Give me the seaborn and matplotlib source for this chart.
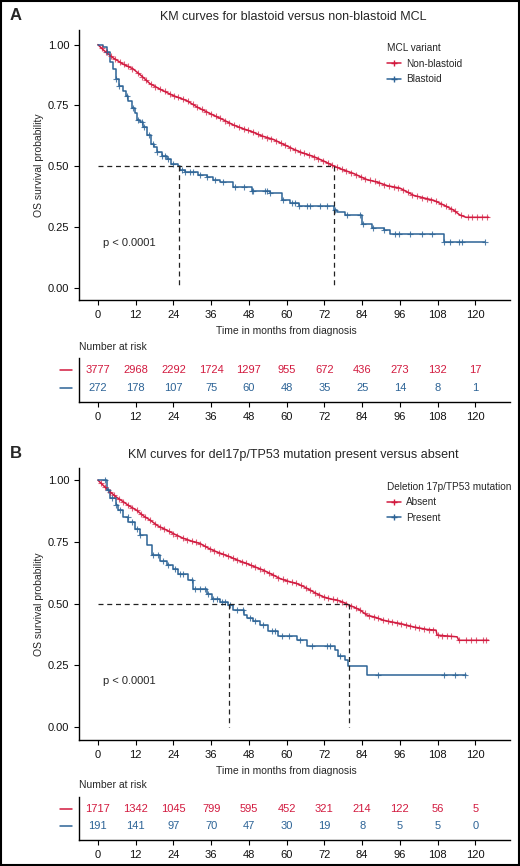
import numpy as np
import pandas as pd
import matplotlib
matplotlib.use("Agg")
import matplotlib.pyplot as plt
from matplotlib.lines import Line2D
from matplotlib.patches import Rectangle
import seaborn as sns

# ---- data ----
times = [0, 12, 24, 36, 48, 60, 72, 84, 96, 108, 120]

# Panel A: blastoid vs non-blastoid
red_a_t = [0, 2, 4.9, 8, 11.2, 14, 16.5, 20, 24, 28.2, 32, 36.7, 40, 43, 46, 49.4, 52, 55.8,
           59, 62.2, 65, 68.5, 72, 75.1, 78, 81.3, 85.5, 88.7, 92, 96, 100.4, 103.5, 106.7,
           110, 113, 115, 117, 124.2]
red_a_s = [1.0, 0.975, 0.945, 0.92, 0.90, 0.87, 0.84, 0.815, 0.79, 0.77, 0.74, 0.71, 0.69, 0.67,
           0.655, 0.64, 0.625, 0.61, 0.59, 0.57, 0.555, 0.54, 0.52, 0.50, 0.485, 0.47, 0.445,
           0.435, 0.42, 0.41, 0.38, 0.37, 0.36, 0.34, 0.32, 0.30, 0.29, 0.29]
blue_a_t = [0, 1.7, 2.8, 3.8, 4.9, 5.7, 6.8, 8.0, 9.0, 9.7, 11.0, 11.8, 12.5, 13.4, 14.4, 15.5,
            17.0, 17.8, 18.7, 20.3, 21.9, 23.4, 25.6, 26.0, 27.7, 31.9, 34.6, 36.7, 38.8, 43.1,
            48.9, 54.7, 58.4, 61.1, 63.8, 74.9, 76.0, 78.6, 83.9, 87.1, 90.8, 92.9, 109.9, 123.2]
blue_a_s = [1.0, 0.99, 0.97, 0.93, 0.90, 0.86, 0.83, 0.81, 0.79, 0.77, 0.74, 0.72, 0.69, 0.68,
            0.66, 0.63, 0.59, 0.58, 0.56, 0.54, 0.53, 0.51, 0.50, 0.485, 0.475, 0.465, 0.455,
            0.445, 0.437, 0.414, 0.40, 0.39, 0.362, 0.35, 0.335, 0.32, 0.31, 0.30, 0.262, 0.246,
            0.236, 0.222, 0.19, 0.19]
red_cens_a = [1.2, 2.6, 4.1, 5.3, 6.9, 8.2, 9.6, 11.0, 12.7, 14.1, 15.4, 17.0, 18.3, 19.9, 21.2,
              22.8, 24.1, 25.5, 27.0, 28.6, 30.1, 31.4, 33.0, 34.5, 36.0, 37.4, 38.9, 40.5, 41.8,
              43.4, 44.9, 46.3, 47.8, 49.3, 50.9, 52.2, 53.8, 55.1, 56.7, 58.2, 59.6, 61.2, 62.7,
              64.1, 65.6, 67.2, 68.7, 70.0, 71.6, 73.1, 74.5, 76.1, 77.5, 79.0, 80.6, 82.1, 83.5,
              85.0, 86.6, 88.0, 89.5, 91.1, 92.6, 94.0, 95.5, 97.1, 98.6, 100.0, 101.5, 103.1,
              104.6, 106.0, 107.5, 109.1, 110.6, 112.1, 113.6, 115.5, 117.6, 119.0, 120.4, 122.0,
              123.6]
blue_cens_a = [2.9, 5.9, 6.8, 9.1, 11.2, 12.9, 13.9, 14.7, 16.1, 17.6, 18.7, 20.3, 21.3, 22.4,
               24.0, 26.6, 27.7, 29.3, 30.3, 32.5, 34.6, 37.2, 39.9, 43.6, 46.3, 48.9, 49.4, 53.2,
               53.7, 54.7, 59.0, 61.6, 62.7, 63.8, 66.4, 67.5, 70.7, 72.8, 75.4, 79.2, 83.4, 84.4,
               87.6, 90.8, 94.5, 95.6, 99.3, 103.0, 106.2, 109.9, 112.0, 114.7, 115.7, 123.2]
median_a = [25.9, 75.1]
risk_a_red = [3777, 2968, 2292, 1724, 1297, 955, 672, 436, 273, 132, 17]
risk_a_blue = [272, 178, 107, 75, 60, 48, 35, 25, 14, 8, 1]

# Panel B: del17p/TP53 absent vs present
red_b_t = [0, 2, 3.8, 6, 8.1, 10, 12.3, 14.5, 16.6, 19, 21.9, 24.5, 27.2, 30, 32.5, 35, 37.8,
           42, 44.5, 47.3, 50, 52.6, 55, 57.9, 60.5, 63.2, 65.5, 67.5, 69.5, 71.7, 74, 76, 78,
           79.9, 81.5, 83.4, 85.5, 88, 90.8, 93.5, 96.1, 100.4, 104.6, 107.5, 107.8, 114.2,
           114.7, 124.2]
red_b_s = [1.0, 0.975, 0.953, 0.93, 0.912, 0.895, 0.878, 0.855, 0.838, 0.815, 0.797, 0.78,
           0.764, 0.752, 0.743, 0.725, 0.709, 0.689, 0.675, 0.662, 0.648, 0.635, 0.62, 0.601,
           0.59, 0.581, 0.568, 0.554, 0.54, 0.527, 0.518, 0.514, 0.505, 0.493, 0.485, 0.473,
           0.453, 0.445, 0.432, 0.425, 0.419, 0.405, 0.395, 0.392, 0.372, 0.365, 0.351, 0.351]
blue_b_t = [0, 2.8, 3.8, 5.9, 6.5, 8.1, 9.7, 11.8, 13.4, 15.5, 17.1, 19.7, 21.9, 24, 25.6,
            28.8, 30.3, 34.6, 36.2, 38.8, 41.5, 43.1, 46.3, 47.5, 49.4, 51.6, 54.2, 57.4, 63.2,
            66.6, 75.4, 76.2, 78.6, 79.4, 85.5, 117.1]
blue_b_s = [1.0, 0.96, 0.926, 0.90, 0.878, 0.85, 0.83, 0.80, 0.777, 0.736, 0.696, 0.673,
            0.655, 0.638, 0.62, 0.595, 0.56, 0.54, 0.52, 0.507, 0.493, 0.473, 0.453, 0.441,
            0.428, 0.414, 0.387, 0.367, 0.353, 0.326, 0.313, 0.286, 0.273, 0.246, 0.212, 0.212]
red_cens_b = [1.0, 2.4, 3.9, 5.2, 6.6, 8.0, 9.5, 10.9, 12.4, 13.8, 15.1, 16.7, 18.2, 19.6, 21.0,
              22.5, 24.0, 25.3, 26.9, 28.3, 29.8, 31.2, 32.6, 34.1, 35.6, 37.0, 38.5, 39.9, 41.3,
              42.8, 44.2, 45.7, 47.1, 48.6, 50.0, 51.5, 52.9, 54.4, 55.8, 57.3, 58.7, 60.2, 61.6,
              63.1, 64.5, 66.0, 67.4, 68.9, 70.3, 71.8, 73.2, 74.7, 76.1, 77.6, 79.0, 80.5, 81.9,
              83.4, 84.8, 86.3, 87.7, 89.2, 90.6, 92.1, 93.5, 95.0, 96.4, 97.9, 99.3, 100.8,
              102.2, 103.7, 105.1, 106.6, 108.0, 109.5, 110.9, 112.4, 114.9, 117.0, 118.6, 120.2,
              122.3, 123.4]
blue_cens_b = [2.2, 3.3, 4.4, 5.9, 7.0, 9.6, 10.7, 12.3, 13.4, 17.6, 19.2, 20.8, 22.4, 24.5,
               26.1, 27.1, 29.8, 30.9, 32.5, 34.1, 35.1, 36.7, 37.8, 39.4, 40.4, 42.0, 44.1, 46.2,
               48.4, 50.0, 52.6, 55.3, 56.3, 58.5, 60.6, 64.3, 68.0, 72.8, 73.8, 77.0, 89.2,
               109.9, 113.6, 116.8]
median_b = [41.8, 79.9]
risk_b_red = [1717, 1342, 1045, 799, 595, 452, 321, 214, 122, 56, 5]
risk_b_blue = [191, 141, 97, 70, 47, 30, 19, 8, 5, 5, 0]

RED = "#D21A3F"
BLUE = "#2C6396"

sns.set_style("white")
plt.rcParams["font.family"] = ["Liberation Sans", "DejaVu Sans"]
NARROW = ["Liberation Sans Narrow", "Liberation Sans", "DejaVu Sans"]

W, H = 520, 866
fig = plt.figure(figsize=(5.2, 8.66), dpi=100)


def step_at(tt, ss, x):
    idx = np.searchsorted(tt, x, side="right") - 1
    return np.asarray(ss)[idx]


def km_panel(ax, rt, rs, bt, bs, rc, bc, medians, title, letter, letter_y, legend_title,
             labels):
    red_df = pd.DataFrame({"time": rt, "surv": rs})
    blue_df = pd.DataFrame({"time": bt, "surv": bs})
    sns.lineplot(data=red_df, x="time", y="surv", color=RED, lw=1.1, ax=ax,
                 estimator=None, sort=False)
    sns.lineplot(data=blue_df, x="time", y="surv", color=BLUE, lw=1.1, ax=ax,
                 estimator=None, sort=False, drawstyle="steps-post")
    ax.plot(rc, np.interp(rc, rt, rs), ls="none", marker="+", ms=4, mew=0.8,
            color=RED, alpha=0.7)
    ax.plot(bc, step_at(bt, bs, bc), ls="none", marker="+", ms=4, mew=0.8,
            color=BLUE, alpha=0.8)
    # median lines
    ax.plot([0, max(medians)], [0.5, 0.5], ls=(0, (4, 3)), color="#222222", lw=0.9)
    for m in medians:
        ax.plot([m, m], [0.5, 0], ls=(0, (4, 3)), color="#222222", lw=0.9)
    ax.text(1.5, 0.185, "p < 0.0001", fontsize=8, va="center", ha="left")

    ax.set_xlim(-6, 131)
    ax.set_xticks(times)
    ax.set_yticks([0, 0.25, 0.5, 0.75, 1.0])
    ax.set_yticklabels(["0.00", "0.25", "0.50", "0.75", "1.00"])
    ax.tick_params(axis="both", labelsize=8, length=3.5, width=0.8, direction="out",
                   bottom=True, left=True, color="black", labelcolor="#111111")
    for side in ["top", "right"]:
        ax.spines[side].set_visible(False)
    for side in ["left", "bottom"]:
        ax.spines[side].set_color("black")
        ax.spines[side].set_linewidth(1.0)
    ax.set_xlabel("Time in months from diagnosis", fontsize=7.5, family=NARROW)
    ax.xaxis.set_label_coords(0.482, -0.095)
    ax.set_ylabel("OS survival probability", fontsize=7.5, family=NARROW)
    ax.yaxis.set_label_coords(-0.082, 0.5)
    ax.set_title(title, fontsize=9, pad=7, x=0.497)
    fig.text(10 / W, 1 - letter_y / H, letter, fontsize=12, fontweight="bold",
             va="center", ha="left")

    handles = [Line2D([], [], color=RED, marker="+", ms=4, lw=1.1),
               Line2D([], [], color=BLUE, marker="+", ms=4, lw=1.1)]
    ax.legend(handles, labels, title=legend_title, loc="upper left",
              bbox_to_anchor=(0.705, 0.965), frameon=False, fontsize=7.2, title_fontsize=7.2,
              handlelength=1.45, handletextpad=0.45, labelspacing=0.55, alignment="left",
              borderaxespad=0)


def risk_table(ax, red_vals, blue_vals, top_px):
    for y, vals, c in [(1, red_vals, RED), (0, blue_vals, BLUE)]:
        for t, v in zip(times, vals):
            ax.text(t, y, str(v), color=c, fontsize=8, ha="center", va="center")
        ax.add_line(Line2D([-0.045, -0.017], [(y + 0.777) / 2.444] * 2, color=c, lw=1.1,
                           transform=ax.transAxes, clip_on=False))
    ax.set_xlim(-6, 131)
    ax.set_ylim(-0.777, 1.667)
    ax.set_xticks(times)
    ax.set_yticks([])
    ax.tick_params(axis="x", labelsize=8, length=3.5, width=0.8, direction="out",
                   bottom=True, color="black", labelcolor="#111111")
    for side in ["top", "right"]:
        ax.spines[side].set_visible(False)
    for side in ["left", "bottom"]:
        ax.spines[side].set_color("black")
        ax.spines[side].set_linewidth(1.0)
    fig.text(79 / W, 1 - top_px / H, "Number at risk", fontsize=7.5, va="center", ha="left")


axA = fig.add_axes([79 / W, 1 - 300 / H, 431 / W, 270 / H])
km_panel(axA, red_a_t, red_a_s, blue_a_t, blue_a_s, red_cens_a, blue_cens_a, median_a,
         "KM curves for blastoid versus non-blastoid MCL", "A", 16, "MCL variant",
         ["Non-blastoid", "Blastoid"])
axA.set_ylim(-0.05, 1.06)
rA = fig.add_axes([79 / W, 1 - 402 / H, 431 / W, 44 / H])
risk_table(rA, risk_a_red, risk_a_blue, 347)

axB = fig.add_axes([79 / W, 1 - 740 / H, 431 / W, 272 / H])
km_panel(axB, red_b_t, red_b_s, blue_b_t, blue_b_s, red_cens_b, blue_cens_b, median_b,
         "KM curves for del17p/TP53 mutation present versus absent", "B", 453,
         "Deletion 17p/TP53 mutation", ["Absent", "Present"])
axB.set_ylim(-0.053, 1.049)
rB = fig.add_axes([79 / W, 1 - 840 / H, 431 / W, 43 / H])
risk_table(rB, risk_b_red, risk_b_blue, 785)

fig.patches.append(Rectangle((0.001, 0.001), 0.998, 0.998, transform=fig.transFigure,
                             fill=False, edgecolor="black", lw=1.5))

fig.savefig("out.png", dpi=100)
